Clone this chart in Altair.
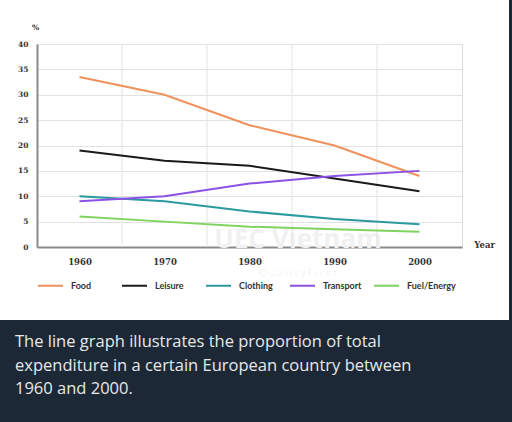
import altair as alt
import pandas as pd

years = [1960, 1970, 1980, 1990, 2000]
food = [33.5, 30, 24, 20, 14]
leisure = [19, 17, 16, 13.5, 11]
clothing = [10, 9, 7, 5.5, 4.5]
transport = [9, 10, 12.5, 14, 15]
fuel = [6, 5, 4, 3.5, 3]
series_names = ["Food", "Leisure", "Clothing", "Transport", "Fuel/Energy"]
series_colors = ["#f0905a", "#1a1a1a", "#2a9a9e", "#8b52e6", "#7fd35e"]
grid_years = [1965, 1975, 1985, 1995]
y_ticks = [0, 5, 10, 15, 20, 25, 30, 35, 40]
caption = [
    "The line graph illustrates the proportion of total",
    "expenditure in a certain European country between",
    "1960 and 2000.",
]

rows = []
for name, vals in zip(series_names, [food, leisure, clothing, transport, fuel]):
    for yr, v in zip(years, vals):
        rows.append({"Year": yr, "Value": v, "Series": name})
df = pd.DataFrame(rows)

W, H = 425, 203
x_scale = alt.Scale(domain=[1955, 2005], nice=False, zero=False)
y_scale = alt.Scale(domain=[0, 40], nice=False)
one = alt.Data(values=[{}])

grid = alt.Chart(pd.DataFrame({"Year": grid_years})).mark_rule(
    color="#e2e2e2", strokeWidth=1
).encode(x=alt.X("Year:Q", scale=x_scale))

wm1 = alt.Chart(one).mark_text(
    text="UEC Vietnam", font="Open Sans", fontWeight="bold", fontSize=26,
    color="#f1f1f1", align="center", baseline="middle"
).encode(x=alt.value(261), y=alt.value(196))
wm2 = alt.Chart(one).mark_text(
    text="Q u a l i t y   F i r s t", font="Open Sans", fontSize=9.5,
    color="#f3f3f3", align="center", baseline="middle"
).encode(x=alt.value(261), y=alt.value(229))

lines = alt.Chart(df).mark_line(strokeWidth=2).encode(
    x=alt.X("Year:Q", scale=x_scale,
            axis=alt.Axis(values=years, format="d", grid=False, ticks=False,
                          domainColor="#8a8a8a", domainWidth=2,
                          labelFont="DejaVu Serif", labelFontWeight="bold",
                          labelFontSize=8.5, labelColor="#333", labelPadding=10,
                          labelFlush=False,
                          title="Year", titleX=447, titleY=-3, titleAlign="center",
                          titleBaseline="middle", titleFont="DejaVu Serif",
                          titleFontWeight="bold", titleFontSize=8.5, titleColor="#333")),
    y=alt.Y("Value:Q", scale=y_scale,
            axis=alt.Axis(values=y_ticks, grid=True, gridColor="#e2e2e2", ticks=False,
                          domainColor="#8a8a8a", domainWidth=2,
                          labelFont="DejaVu Serif", labelFontWeight="bold",
                          labelFontSize=7.5, labelColor="#333", labelPadding=9,
                          title="%", titleAngle=0, titleX=-2, titleY=-17,
                          titleAlign="center", titleBaseline="middle",
                          titleFont="DejaVu Serif", titleFontWeight="bold",
                          titleFontSize=7.5, titleColor="#333")),
    color=alt.Color("Series:N",
                    scale=alt.Scale(domain=series_names, range=series_colors),
                    legend=alt.Legend(orient="none", legendX=0, legendY=228,
                                      direction="horizontal", columns=5,
                                      gridAlign="all", title=None,
                                      symbolType="stroke", symbolSize=625,
                                      symbolStrokeWidth=2, padding=0,
                                      labelFont="Lato", labelFontWeight="bold",
                                      labelFontSize=9, labelColor="#333",
                                      labelOffset=7, columnPadding=-2)),
    detail="Series:N",
)

panel = alt.Chart(one).mark_rect(color="#1c2836").encode(
    x=alt.value(-37), x2=alt.value(476), y=alt.value(276), y2=alt.value(390)
)
edge = alt.Chart(one).mark_rect(color="#1c2836").encode(
    x=alt.value(472), x2=alt.value(476), y=alt.value(-44), y2=alt.value(276)
)
cap = alt.Chart(one).mark_text(
    text=caption, font="Open Sans", fontSize=16.5, color="#e8e8e8",
    align="left", baseline="middle", lineHeight=23.5
).encode(x=alt.value(-22), y=alt.value(298))

chart = alt.layer(wm1, wm2, grid, lines, panel, edge, cap).properties(
    width=W, height=H,
    autosize=alt.AutoSizeParams(type="none"),
    padding={"left": 37, "top": 44, "right": 50, "bottom": 175},
    background="white",
).configure_view(stroke="#dcdcdc", strokeWidth=1)

chart.save("out.html", embed_options={"renderer": "svg", "actions": False})
